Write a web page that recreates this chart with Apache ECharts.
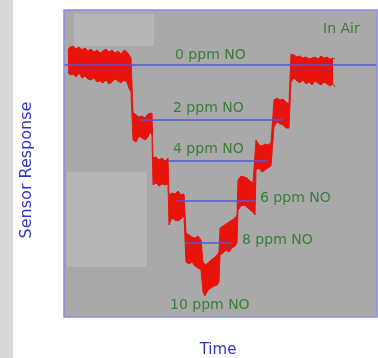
<!DOCTYPE html>
<html>
<head>
<meta charset="utf-8">
<script src="https://cdn.jsdelivr.net/npm/echarts@6/dist/echarts.min.js"></script>
<style>
html, body { margin: 0; padding: 0; background: #fff; }
#chart { width: 378px; height: 358px; }
</style>
</head>
<body>
<div id="chart"></div>
<script>
// time axis (arbitrary units) and the noisy sensor band, lower / upper edge
const time = [
    4, 6, 9, 12, 15, 18, 21, 24, 27, 30, 33, 36, 39, 42, 45, 48, 51, 54, 57, 60, 63, 65, 67, 68,
    69, 72, 75, 78, 81, 84, 86, 88,
    89, 92, 95, 98, 101, 104,
    105, 108, 111, 114, 117, 120,
    122, 125, 128, 131, 134, 137,
    139, 141, 144, 147, 150, 153, 155,
    156, 159, 162, 165, 168, 171, 173,
    174, 177, 180, 183, 186, 189, 191,
    192, 195, 198, 201, 204, 207, 209,
    210, 213, 216, 219, 222, 225,
    227, 230, 233, 236, 239, 242, 245, 248, 251, 254, 257, 260, 263, 266, 269, 271
];
const respLow = [
    245, 242, 243, 240, 244, 239, 241, 238, 237, 239, 235, 236, 234, 237, 233, 235, 238, 236, 234, 237, 235, 229, 225, 227,
    177, 175, 181, 179, 177, 180, 185, 182,
    132, 134, 131, 133, 132, 133,
    92, 99, 97, 96, 98, 101,
    55, 53, 55, 51, 49, 47,
    25, 21, 27, 29, 31, 32, 35,
    62, 64, 67, 65, 69, 71, 74,
    107, 111, 112, 110, 107, 105, 102,
    147, 149, 145, 147, 149, 151, 152,
    190, 195, 193, 192, 189, 189,
    235, 239, 236, 234, 237, 233, 235, 232, 236, 234, 232, 235, 233, 231, 233, 230
];
const respHigh = [
    267, 270, 271, 268, 270, 267, 269, 266, 268, 265, 267, 264, 266, 268, 265, 267, 264, 266, 263, 267, 265, 262, 259, 257,
    205, 202, 200, 201, 199, 203, 205, 204,
    159, 160, 157, 159, 156, 159,
    122, 124, 123, 126, 122, 123,
    84, 82, 80, 79, 81, 77,
    55, 52, 54, 57, 59, 62, 65,
    89, 91, 93, 95, 97, 99, 102,
    137, 141, 140, 139, 136, 134, 135,
    177, 172, 171, 173, 172, 174, 175,
    217, 219, 217, 218, 215, 213,
    263, 262, 260, 261, 259, 260, 258, 259, 260, 258, 261, 259, 260, 258, 259, 258
];

// concentration reference levels
const levelNames = ['0 ppm NO', '2 ppm NO', '4 ppm NO', '6 ppm NO', '8 ppm NO'];
const levelY = [252, 197, 156, 116, 74];
const levelStart = [0, 76, 104, 113, 121];
const levelEnd = [313, 219, 203, 191, 168];

const chart = echarts.init(document.getElementById('chart'));

const plotBg = '#a9a9a9';
const red = '#e8140c';
const green = '#3b7d3b';
const blue = '#3535c8';
const font = 'DejaVu Sans';

let levelSeries = levelY.map((y, i) => ({
    name: levelNames[i],
    type: 'line',
    data: [[levelStart[i], y], [levelEnd[i], y]],
    symbol: 'none',
    silent: true,
    z: 5,
    lineStyle: { color: '#5656d2', width: 1.5 }
}));

function textEl(text, x, y, align, color, size) {
    return {
        type: 'text',
        x: x,
        y: y,
        style: {
            text: text,
            fill: color || green,
            font: (size || 14) + 'px ' + font,
            textAlign: align || 'left',
            textVerticalAlign: 'middle'
        },
        z: 10
    };
}

let axisTitle = textEl('Sensor Response', 27, 170, 'center', blue, 16);
axisTitle.rotation = Math.PI / 2;

chart.setOption({
    animation: false,
    grid: {
        left: 64, top: 10, width: 313, height: 307,
        show: true,
        backgroundColor: plotBg,
        borderWidth: 0
    },
    xAxis: {
        type: 'value', min: 0, max: 313,
        axisLine: { show: false }, axisTick: { show: false },
        axisLabel: { show: false }, splitLine: { show: false }
    },
    yAxis: {
        type: 'value', min: 0, max: 307,
        axisLine: { show: false }, axisTick: { show: false },
        axisLabel: { show: false }, splitLine: { show: false }
    },
    graphic: [
        { type: 'rect', x: 0, y: 0, shape: { width: 13, height: 358 }, style: { fill: '#d9d9d9' }, z: -1 },
        // plot frame drawn above the series
        {
            type: 'rect', x: 64, y: 10, shape: { width: 313, height: 307 },
            style: { fill: null, stroke: '#8c8cdc', lineWidth: 1.5 }, z: 50, silent: true
        },
        axisTitle,
        textEl('Time', 218, 350, 'center', blue, 15),
        textEl('In Air', 323, 29),
        textEl('0 ppm NO', 175, 55),
        textEl('2 ppm NO', 173, 108),
        textEl('4 ppm NO', 173, 149),
        textEl('6 ppm NO', 260, 198),
        textEl('8 ppm NO', 242, 240),
        textEl('10 ppm NO', 170, 305)
    ],
    series: [
        {
            // upper edge, filled red down to the bottom of the plot
            name: 'Sensor',
            type: 'line',
            data: time.map((t, i) => [t, respHigh[i]]),
            symbol: 'none',
            silent: true,
            z: 2,
            lineStyle: { color: red, width: 1 },
            areaStyle: { color: red, opacity: 1, origin: 'start' }
        },
        {
            // lower edge, masks everything below the band with the plot colour
            name: 'base',
            type: 'line',
            data: time.map((t, i) => [t, respLow[i]]),
            symbol: 'none',
            silent: true,
            z: 3,
            lineStyle: { color: red, width: 1 },
            areaStyle: { color: plotBg, opacity: 1, origin: 'start' }
        },
        {
            name: 'shade',
            type: 'line',
            data: [],
            z: 4,
            markArea: {
                silent: true,
                z: 4,
                itemStyle: { color: '#b6b6b6' },
                data: [
                    [{ coord: [10, 303] }, { coord: [90, 271] }],
                    [{ coord: [3, 145] }, { coord: [83, 50] }]
                ]
            }
        }
    ].concat(levelSeries)
});
</script>
</body>
</html>
